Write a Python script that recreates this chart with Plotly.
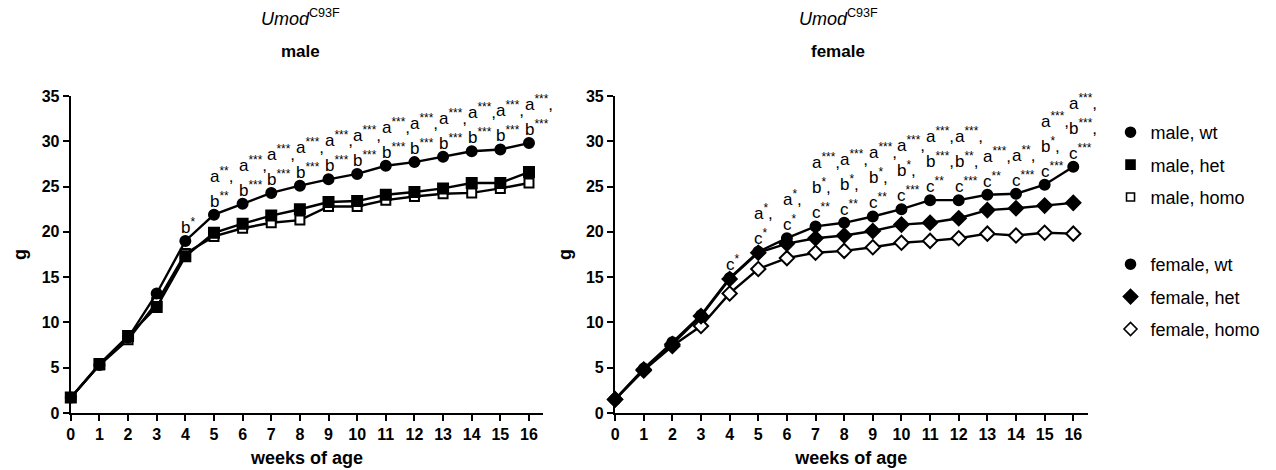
import plotly.graph_objects as go

# ---------------- data ----------------
weeks = list(range(17))
week_ticks = list(range(17))
g_ticks = [0, 5, 10, 15, 20, 25, 30, 35]

male_wt = [1.7, 5.3, 8.3, 13.2, 19.0, 21.9, 23.1, 24.3, 25.1, 25.8, 26.4, 27.3, 27.7, 28.3, 28.9, 29.1, 29.8]
male_het = [1.7, 5.4, 8.5, 11.7, 17.3, 19.9, 20.9, 21.8, 22.5, 23.3, 23.4, 24.1, 24.4, 24.8, 25.4, 25.4, 26.6]
male_homo = [1.7, 5.3, 8.1, 12.2, 17.6, 19.5, 20.4, 21.0, 21.3, 22.8, 22.8, 23.5, 23.9, 24.2, 24.3, 24.8, 25.4]

female_wt = [1.5, 4.9, 7.8, 10.8, 14.9, 17.8, 19.3, 20.6, 21.0, 21.7, 22.5, 23.5, 23.5, 24.1, 24.2, 25.2, 27.2]
female_het = [1.5, 4.8, 7.6, 10.7, 14.8, 17.7, 18.7, 19.3, 19.6, 20.1, 20.8, 21.0, 21.5, 22.4, 22.6, 22.9, 23.2]
female_homo = [1.5, 4.7, 7.4, 9.6, 13.2, 15.9, 17.1, 17.7, 17.9, 18.3, 18.8, 19.0, 19.3, 19.8, 19.6, 19.9, 19.8]

# significance stars per week
male_sig_a = ["", "", "", "", "", "**", "***", "***", "***", "***", "***", "***", "***", "***", "***", "***", "***"]
male_sig_b = ["", "", "", "", "*", "**", "***", "***", "***", "***", "***", "***", "***", "***", "***", "***", "***"]
female_sig_a = ["", "", "", "", "", "*", "*", "***", "***", "***", "***", "***", "***", "***", "**", "***", "***"]
female_sig_b = ["", "", "", "", "", "", "", "*", "*", "*", "*", "***", "**", "", "", "*", "***"]
female_sig_c = ["", "", "", "", "*", "*", "*", "**", "**", "**", "***", "**", "***", "**", "***", "***", "***"]

FONT = "Arial, 'Liberation Sans', Helvetica, sans-serif"
BLACK = "black"

fig = go.Figure()


def add_series(x, y, name, symbol, filled, size, xa, ya):
    fig.add_trace(go.Scatter(
        x=x, y=y, mode="lines+markers", name=name, showlegend=False,
        xaxis=xa, yaxis=ya, cliponaxis=False,
        line=dict(color=BLACK, width=2.4),
        marker=dict(symbol=symbol, size=size,
                    color=BLACK if filled else "white",
                    line=dict(color=BLACK, width=2)),
        hoverinfo="x+y+name",
    ))


add_series(weeks, male_homo, "male, homo", "square", False, 9, "x", "y")
add_series(weeks, male_het, "male, het", "square", True, 10, "x", "y")
add_series(weeks, male_wt, "male, wt", "circle", True, 10, "x", "y")

add_series(weeks, female_homo, "female, homo", "diamond", False, 11, "x2", "y2")
add_series(weeks, female_het, "female, het", "diamond", True, 11, "x2", "y2")
add_series(weeks, female_wt, "female, wt", "circle", True, 10, "x2", "y2")

# legend entries (marker only)
legend_items = [
    ("male, wt", "circle", True, 10, "legend"),
    ("male, het", "square", True, 9, "legend"),
    ("male, homo", "square", False, 8, "legend"),
    ("female, wt", "circle", True, 10, "legend2"),
    ("female, het", "diamond", True, 11, "legend2"),
    ("female, homo", "diamond", False, 10, "legend2"),
]
for i, (nm, sym, filled, sz, lg) in enumerate(legend_items):
    fig.add_trace(go.Scatter(
        x=[None], y=[None], mode="markers", name=nm, legend=lg,
        legendgroup=f"g{i}", xaxis="x", yaxis="y",
        marker=dict(symbol=sym, size=sz, color=BLACK if filled else "white",
                    line=dict(color=BLACK, width=1.6)),
    ))

# significance annotations stacked above the wt curve
annotations = []


def add_sig(values, lines, xref, yref):
    for i, w in enumerate(weeks):
        k = 0
        for letter, sig, comma in lines:
            s = sig[i]
            if not s:
                continue
            annotations.append(dict(
                x=w, y=values[i], xref=xref, yref=yref,
                text=f"{letter}<sup>{s}</sup>{comma}",
                showarrow=False, xanchor="left", yanchor="middle",
                xshift=-6, yshift=15 + 25 * k,
                font=dict(family=FONT, size=17, color=BLACK),
            ))
            k += 1


add_sig(male_wt, [("b", male_sig_b, ""), ("a", male_sig_a, ",")], "x", "y")
add_sig(female_wt, [("c", female_sig_c, ""), ("b", female_sig_b, ","), ("a", female_sig_a, ",")], "x2", "y2")

# panel titles
for xc, sub in [(297 / 1276, "male"), (837 / 1276, "female")]:
    annotations.append(dict(
        x=xc, y=(413 - 17) / 317, xref="paper", yref="paper", showarrow=False,
        text="<i>Umod</i><sup>C93F</sup>", xanchor="center", yanchor="middle",
        font=dict(family=FONT, size=18, color=BLACK)))
    annotations.append(dict(
        x=xc, y=(413 - 51) / 317, xref="paper", yref="paper", showarrow=False,
        text=f"<b>{sub}</b>", xanchor="center", yanchor="middle",
        font=dict(family=FONT, size=17, color=BLACK)))

axis_common = dict(
    showline=True, linewidth=2.2, linecolor=BLACK, mirror=False,
    ticks="outside", ticklen=6, tickwidth=2, tickcolor=BLACK,
    showgrid=False, zeroline=False,
    tickfont=dict(family=FONT, size=16, color=BLACK, weight="bold"),
)

xcommon = dict(axis_common, range=[0, 16.5], tickmode="array", tickvals=week_ticks,
               title=dict(text="weeks of age", standoff=9,
                          font=dict(family=FONT, size=18, color=BLACK, weight="bold")))
ycommon = dict(axis_common, range=[0, 35], tickmode="array", tickvals=g_ticks,
               title=dict(text="g", standoff=10,
                          font=dict(family=FONT, size=18, color=BLACK, weight="bold")))

legend_common = dict(
    font=dict(family=FONT, size=18, color=BLACK),
    bgcolor="rgba(0,0,0,0)", borderwidth=0,
    xanchor="left", yanchor="top", itemclick=False,
    traceorder="grouped", tracegroupgap=6,
)

fig.update_layout(
    width=1276, height=470,
    margin=dict(l=0, r=0, t=96, b=57),
    paper_bgcolor="white", plot_bgcolor="white",
    font=dict(family=FONT, color=BLACK),
    xaxis=dict(xcommon, domain=[67 / 1276, 541 / 1276], anchor="y"),
    yaxis=dict(ycommon, domain=[0, 1], anchor="x"),
    xaxis2=dict(xcommon, domain=[613 / 1276, 1087 / 1276], anchor="y2"),
    yaxis2=dict(ycommon, domain=[0, 1], anchor="x2"),
    legend=dict(legend_common, x=1110 / 1276, y=(413 - 114) / 317),
    legend2=dict(legend_common, x=1110 / 1276, y=(413 - 246) / 317),
    annotations=annotations,
    showlegend=True,
)

fig.write_html("out.html")
